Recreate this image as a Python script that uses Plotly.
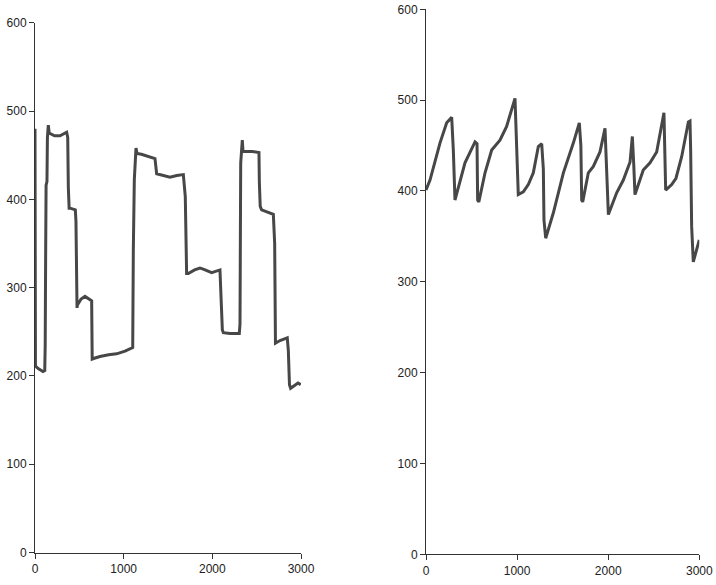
import plotly.graph_objects as go
from plotly.subplots import make_subplots

# left panel: step-like series
left_x = [0, 5, 40, 90, 110, 115, 120, 125, 135, 140, 150, 160, 220, 282, 357, 369,
          376, 385, 395, 455, 462, 470, 474, 477, 520, 564, 639, 645, 669, 733,
          830, 921, 1015, 1102, 1109, 1120, 1139, 1150, 1200, 1260, 1353, 1372,
          1410, 1522, 1600, 1673, 1695, 1700, 1710, 1729, 1800, 1861, 1898, 1993,
          2086, 2113, 2124, 2200, 2304, 2312, 2315, 2320, 2338, 2346, 2450, 2526,
          2530, 2540, 2556, 2620, 2688, 2703, 2707, 2712, 2763, 2845, 2857, 2862,
          2870, 2883, 2932, 2966, 2997]
left_y = [480, 211, 208, 205, 206, 235, 335, 416, 420, 470, 484, 475, 472, 472, 476, 470,
          413, 390, 390, 388, 375, 312, 277, 280, 287, 290, 285, 219, 220, 222,
          224, 225, 228, 232, 343, 422, 458, 452, 451, 449, 446, 429,
          428, 425, 427, 428, 403, 343, 316, 316, 320, 322, 321, 317,
          320, 252, 249, 248, 248, 259, 337, 441, 467, 454, 454, 453,
          420, 392, 388, 386, 383, 350, 263, 237, 240, 243, 229, 195,
          190, 186, 190, 192, 190]

# right panel: saw-tooth series
right_x = [0, 44, 154, 227, 282, 300, 318, 373, 428, 538, 560, 567, 580, 648, 721, 812,
           885, 977, 995, 1013, 1068, 1123, 1178, 1233, 1270, 1288, 1295, 1314, 1398,
           1508, 1618, 1683, 1700, 1709, 1720, 1782, 1837, 1910, 1965, 1980, 2002,
           2093, 2166, 2240, 2265, 2280, 2294, 2385, 2459, 2532, 2587, 2612, 2631,
           2697, 2744, 2807, 2880, 2898, 2905, 2916, 2934, 2989, 3000]
right_y = [401, 412, 453, 475, 481, 445, 390, 412, 431, 454, 452, 390, 388, 420, 445, 456,
           471, 502, 457, 396, 399, 407, 420, 449, 452, 424, 368, 348, 376,
           420, 453, 475, 450, 390, 388, 420, 427, 443, 469, 434, 374,
           398, 412, 432, 460, 430, 396, 423, 431, 443, 473, 486, 401,
           407, 414, 438, 476, 477, 445, 361, 322, 344, 346]

ticks_x = [0, 1000, 2000, 3000]
ticks_y = [0, 100, 200, 300, 400, 500, 600]

line_col = "#474747"
W, H = 716, 585

fig = make_subplots(rows=1, cols=2)
fig.add_trace(go.Scatter(x=left_x, y=left_y, mode="lines",
                         line=dict(color=line_col, width=3)), row=1, col=1)
fig.add_trace(go.Scatter(x=right_x, y=right_y, mode="lines",
                         line=dict(color=line_col, width=3)), row=1, col=2)

ax = dict(showgrid=False, zeroline=False, showline=True, linecolor="#333333", linewidth=1,
          ticks="outside", ticklen=5, tickcolor="#333333", automargin=False,
          tickfont=dict(family="Liberation Sans, Arial", size=12, color="#222222"))

fig.update_xaxes(ax, range=[0, 3000], tickvals=ticks_x)
fig.update_yaxes(ax, range=[0, 600], tickvals=ticks_y)

fig.update_layout(
    template="none",
    width=W, height=H, margin=dict(l=0, r=0, t=0, b=0),
    showlegend=False, paper_bgcolor="white", plot_bgcolor="white",
    xaxis=dict(domain=[35 / W, 301 / W]),
    yaxis=dict(domain=[32.5 / H, 562.3 / H]),
    xaxis2=dict(domain=[426 / W, 699.3 / W]),
    yaxis2=dict(domain=[30.7 / H, 575.7 / H]),
)

# drop the default 8px body margin so the figure fills the window exactly
fig.write_html("out.html", config={"displayModeBar": False},
               post_script="document.body.style.margin='0';")
